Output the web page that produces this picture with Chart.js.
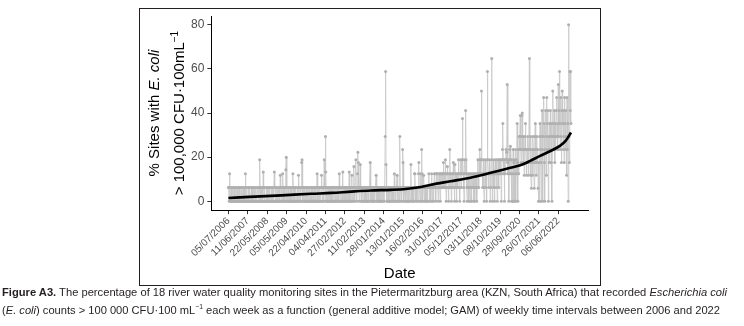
<!DOCTYPE html>
<html>
<head>
<meta charset="utf-8">
<script src="https://cdn.jsdelivr.net/npm/chart.js@4.4.0/dist/chart.umd.min.js"></script>
<style>
    body { margin: 0; background: #fff; width: 744px; height: 326px; overflow: hidden; position: relative; }
    #frame { position: absolute; left: 139px; top: 8px; width: 460px; height: 276px; border: 1px solid #231f20; }
    #chart { position: absolute; left: 0; top: 0; }
    .cap { position: absolute; left: 2px; white-space: nowrap; font-family: "Liberation Sans Narrow", "Liberation Sans", Arial, sans-serif; font-size: 11.5px; color: #231f20; transform-origin: 0 0; }
    .cap sup { font-size: 7px; }
    #cap1 { top: 286px; }
    #cap2 { top: 303px; }
</style>
</head>
<body>
<div id="frame"></div>
<canvas id="chart" width="744" height="326"></canvas>
<div class="cap" id="cap1" data-w="725"><b>Figure A3.</b> The percentage of 18 river water quality monitoring sites in the Pietermaritzburg area (KZN, South Africa) that recorded <i>Escherichia coli</i></div>
<div class="cap" id="cap2" data-w="718">(<i>E. coli</i>) counts &gt; 100 000 CFU·100 mL<sup>−1</sup> each week as a function (general additive model; GAM) of weekly time intervals between 2006 and 2022</div>
<script>
// Weekly samples are plotted by sample number; date labels sit every 49 samples
const xTickIdx = [0, 49, 98, 147, 196, 245, 294, 343, 392, 441, 490, 539, 588, 637, 686, 735, 784, 833];
const xTickLabels = ["05/07/2006", "11/06/2007", "22/05/2008", "05/05/2009", "22/04/2010", "04/04/2011",
    "27/02/2012", "11/02/2013", "28/01/2014", "13/01/2015", "16/02/2016", "31/01/2017",
    "05/12/2017", "03/11/2018", "08/10/2019", "28/09/2020", "26/07/2021", "06/06/2022"];
const yTicks = [0, 20, 40, 60, 80];

// % of sites above 100 000 CFU/100 mL, one value per weekly sample
const pctSites = [
    6.3,6.3,0,12.5,6.3,0,0,6.3,0,0, 0,6.3,0,0,6.3,6.3,0,0,0,6.3, 0,0,6.3,0,0,0,6.3,0,6.3,0, 0,0,6.3,6.3,0,0,0,6.3,0,0, 6.3,0,0,12.5,6.3,0,0,6.3,0,
    0,0,6.3,0,6.3,6.3,0,0,0,6.3, 0,6.3,0,0,0,6.3,0,6.3,0,0, 6.3,0,0,0,6.3,6.3,0,0,6.3,0, 18.8,6.3,0,0,6.3,0,0,6.3,0,13.3, 6.3,0,0,6.3,0,0,0,6.3,0,
    6.3,0,0,0,6.3,0,6.3,6.3,0,0, 0,6.3,0,0,6.3,0,0,0,13.3,6.3, 0,0,6.3,0,0,6.3,0,0,0,6.3, 0,6.3,0,11.8,6.3,0,0,6.3,0,12.5, 6.3,0,0,6.3,0,0,6.3,14.3,20,
    6.3,0,0,0,6.3,0,6.3,0,0,6.3, 0,0,6.3,0,0,0,12.5,6.3,0,6.3, 0,0,6.3,6.3,0,0,0,6.3,0,0, 11.8,6.3,0,0,6.3,0,0,6.3,17.6,18.8, 6.3,0,0,6.3,0,0,6.3,0,0,
    6.3,0,6.3,0,0,6.3,0,6.3,0,0, 6.3,0,0,6.3,6.3,0,0,6.3,0,6.3, 0,0,6.3,0,6.3,0,0,6.3,12.5,0, 6.3,0,6.3,0,0,6.3,0,0,6.3,11.8, 6.3,0,0,6.3,0,6.3,18.8,6.3,0,
    29.4,13.3,6.3,0,6.3,0,0,6.3,0,6.3, 6.3,0,0,6.3,0,6.3,0,0,6.3,0, 6.3,6.3,0,0,6.3,0,6.3,0,0,6.3, 0,6.3,0,6.3,0,12.5,6.3,0,0,6.3, 0,6.3,6.3,0,13.3,0,6.3,0,6.3,
    0,6.3,0,6.3,6.3,0,0,6.3,0,6.3, 0,13.3,6.3,0,6.3,0,0,6.3,11.8,0, 6.3,6.3,0,15.8,6.3,0,6.3,6.3,18.8,6.3, 0,6.3,12.5,22.2,17.6,6.3,0,6.3,6.3,16.7, 6.3,0,6.3,0,6.3,6.3,0,0,6.3,
    6.3,0,6.3,6.3,0,6.3,0,0,6.3,6.3, 0,6.3,0,6.3,6.3,17.6,6.3,0,6.3,0, 6.3,0,6.3,6.3,0,0,6.3,0,6.3,6.3, 11.8,6.3,0,6.3,0,6.3,6.3,0,6.3,0, 0,6.3,6.3,0,6.3,0,6.3,6.3,0,
    6.3,0,6.3,6.3,29.4,58.8,16.7,6.3,0,6.3, 0,6.3,6.3,0,0,6.3,0,6.3,6.3,0, 6.3,0,6.3,0,6.3,6.3,0,12.5,6.3,0, 6.3,0,6.3,6.3,11.8,0,6.3,0,6.3,6.3, 0,29.4,6.3,6.3,0,6.3,0,6.3,23.5,
    17.6,6.3,0,6.3,6.3,0,6.3,0,6.3,6.3, 0,6.3,6.3,0,6.3,0,6.3,6.3,0,6.3, 16.7,6.3,0,6.3,6.3,0,6.3,0,6.3,12.5, 12.5,6.3,0,6.3,6.3,0,6.3,6.3,0,12.5, 17.6,6.3,6.3,0,12.5,6.3,0,23.5,12.5,
    6.3,0,6.3,11.8,6.3,0,6.3,6.3,0,6.3, 6.3,0,6.3,0,6.3,6.3,12.5,6.3,0,6.3, 6.3,0,6.3,12.5,6.3,0,6.3,6.3,0,6.3, 12.5,12.5,6.3,6.3,0,12.5,12.5,6.3,12.5,6.3, 0,6.3,12.5,12.5,6.3,0,12.5,6.3,12.5,
    12.5,6.3,12.5,6.3,17.6,12.5,6.3,12.5,6.3,18.8, 12.5,0,6.3,12.5,15.8,12.5,6.3,0,12.5,6.3, 23.5,12.5,6.3,12.5,0,6.3,12.5,12.5,6.3,17.6, 12.5,6.3,0,16.7,12.5,6.3,12.5,0,6.3,12.5, 6.3,12.5,18.8,12.5,6.3,0,12.5,18.8,12.5,
    6.3,18.8,12.5,37.5,18.8,12.5,6.3,0,12.5,18.8, 12.5,41.2,18.8,12.5,6.3,0,12.5,6.3,12.5,0, 6.3,12.5,6.3,0,12.5,6.3,0,12.5,6.3,6.3, 12.5,0,6.3,12.5,0,6.3,12.5,6.3,12.5,0, 6.3,12.5,18.8,12.5,6.3,18.8,12.5,23.5,18.8,
    12.5,18.8,50,18.8,12.5,6.3,12.5,18.8,6.3,0, 12.5,18.8,12.5,6.3,12.5,0,18.8,58.8,18.8,12.5, 6.3,12.5,18.8,12.5,0,12.5,6.3,18.8,64.7,12.5, 0,12.5,18.8,6.3,12.5,0,12.5,18.8,12.5,6.3, 18.8,12.5,0,12.5,18.8,12.5,6.3,18.8,12.5,
    18.8,12.5,18.8,0,12.5,18.8,23.5,35.3,18.8,12.5, 18.8,0,18.8,12.5,18.8,23.5,18.8,22.2,52.9,17.6, 12.5,18.8,0,18.8,23.5,12.5,25,18.8,12.5,0, 18.8,0,12.5,23.5,0,17.6,18.8,0,12.5,23.5, 0,18.8,12.5,35.3,17.6,0,23.5,12.5,29.4,
    23.5,29.4,38.9,23.5,17.6,29.4,38.9,40,23.5,17.6, 29.4,23.5,11.8,23.5,29.4,35.3,23.5,17.6,11.8,23.5, 17.6,29.4,23.5,11.8,23.5,64.7,23.5,17.6,29.4,11.8, 5.9,17.6,23.5,11.8,29.4,23.5,17.6,5.9,23.5,29.4, 35.3,17.6,11.8,23.5,29.4,17.6,23.5,5.9,0,
    17.6,0,29.4,35.3,23.5,17.6,0,29.4,41.2,23.5, 0,29.4,47.1,35.3,17.6,0,23.5,41.2,29.4,11.8, 47.1,35.3,23.5,41.2,0,29.4,17.6,35.3,23.5,41.2, 29.4,17.6,35.3,0,29.4,50,35.3,23.5,29.4,41.2, 17.6,35.3,23.5,29.4,41.2,47.1,29.4,35.3,23.5,
    52.9,29.4,41.2,58.8,35.3,23.5,47.1,29.4,17.6,41.2, 50,35.3,23.5,41.2,29.4,17.6,47.1,35.3,23.5,41.2, 29.4,11.8,47.1,23.5,35.3,0,80,29.4,17.6,58.8, 41.2,58.8,35.3
];

// GAM fit read at a few sample numbers
const gamIdx = [0, 53, 134, 209, 260, 311, 360, 411, 448, 486, 511, 561, 611, 662, 712, 737, 762, 787, 812, 837, 852, 865];
const gamPct = [1.5, 2.0, 2.7, 3.4, 3.8, 4.4, 4.9, 5.2, 5.6, 6.5, 7.5, 9.1, 10.7, 12.9, 15.2, 16.3, 18.3, 20.6, 22.7, 25.1, 27.5, 31.2];

// y axis title with italic E. coli and superscript
const yTitlePlugin = {
    id: "yTitle",
    afterDraw(chart) {
        const ctx = chart.ctx;
        const area = chart.chartArea;
        const cy = (area.top + area.bottom) / 2;
        const drawLine = (parts, x) => {
            ctx.save();
            ctx.translate(x, cy);
            ctx.rotate(-Math.PI / 2);
            ctx.fillStyle = "#000";
            ctx.textBaseline = "middle";
            let total = 0;
            parts.forEach(p => { ctx.font = p.font; total += ctx.measureText(p.t).width; });
            let pos = -total / 2;
            parts.forEach(p => {
                ctx.font = p.font;
                ctx.fillText(p.t, pos, p.dy || 0);
                pos += ctx.measureText(p.t).width;
            });
            ctx.restore();
        };
        const f = "15px 'Liberation Sans', Arial, sans-serif";
        drawLine([{ t: "% Sites with ", font: f }, { t: "E. coli", font: "italic " + f }], 155);
        drawLine([{ t: "> 100,000 CFU·100mL", font: f },
                  { t: "−1", font: "10px 'Liberation Sans', Arial, sans-serif", dy: -5 }], 180);
    }
};

const ctx = document.getElementById("chart").getContext("2d");
new Chart(ctx, {
    type: "line",
    data: {
        datasets: [
            {
                label: "GAM",
                data: gamIdx.map((x, i) => ({ x, y: gamPct[i] })),
                borderColor: "#000",
                borderWidth: 2.6,
                pointRadius: 0,
                cubicInterpolationMode: "monotone",
                order: 0
            },
            {
                label: "Weekly",
                data: pctSites.map((y, x) => ({ x, y })),
                borderColor: "#c6c6c6",
                borderWidth: 0.8,
                pointRadius: 1.5,
                pointBackgroundColor: "#b0b0b0",
                pointBorderWidth: 0,
                tension: 0,
                order: 1
            }
        ]
    },
    options: {
        responsive: false,
        animation: false,
        devicePixelRatio: 1,
        layout: { padding: { left: 188, right: 156, top: 16, bottom: 43 } },
        plugins: { legend: { display: false }, tooltip: { enabled: false } },
        scales: {
            x: {
                type: "linear",
                min: -43,
                max: 908,
                afterBuildTicks: (s) => { s.ticks = xTickIdx.map(v => ({ value: v })); },
                ticks: {
                    autoSkip: false,
                    minRotation: 45,
                    maxRotation: 45,
                    padding: 1,
                    color: "#4d4d4d",
                    font: { family: "'Liberation Sans', Arial, sans-serif", size: 10 },
                    callback: (v) => xTickLabels[xTickIdx.indexOf(v)]
                },
                grid: { display: true, drawOnChartArea: false, drawTicks: true, tickLength: 4, color: "#333" },
                border: { display: true, color: "#000", width: 1 },
                title: {
                    display: true,
                    text: "Date",
                    color: "#000",
                    font: { family: "'Liberation Sans', Arial, sans-serif", size: 15 },
                    padding: { top: 5, bottom: 0 }
                }
            },
            y: {
                min: -4,
                max: 84,
                afterBuildTicks: (s) => { s.ticks = yTicks.map(v => ({ value: v })); },
                ticks: {
                    padding: 3,
                    color: "#4d4d4d",
                    font: { family: "'Liberation Sans', Arial, sans-serif", size: 12 }
                },
                grid: { display: true, drawOnChartArea: false, drawTicks: true, tickLength: 4, color: "#333" },
                border: { display: true, color: "#000", width: 1 }
            }
        }
    },
    plugins: [yTitlePlugin]
});

// fit each caption line to its width in the figure
document.querySelectorAll(".cap").forEach(el => {
    const w = el.getBoundingClientRect().width;
    el.style.transform = "scaleX(" + (Number(el.dataset.w) / w) + ")";
});
</script>
</body>
</html>
